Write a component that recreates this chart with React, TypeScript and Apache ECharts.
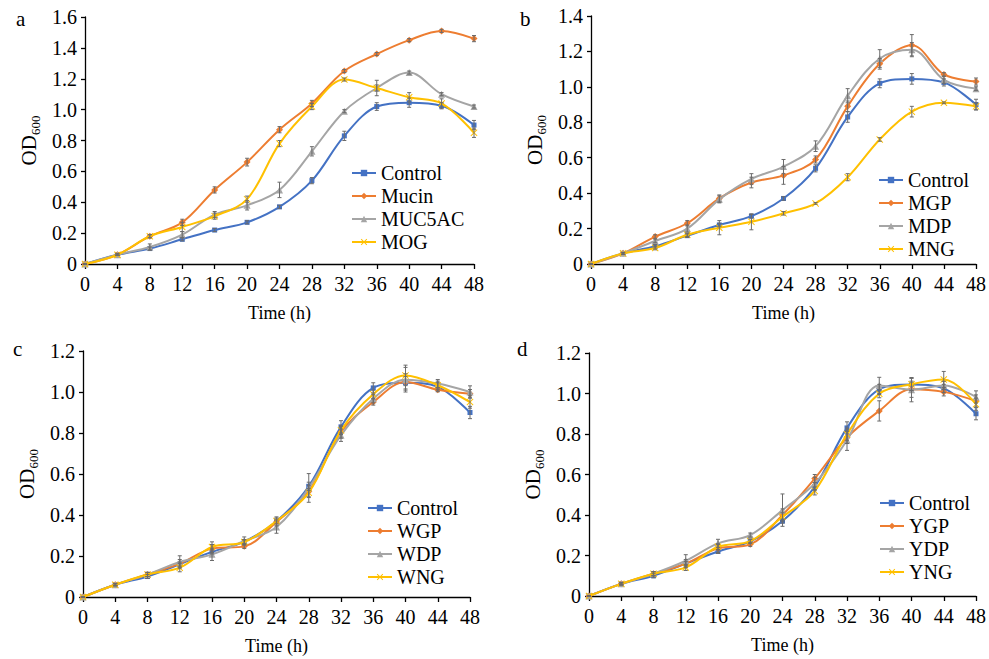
import React, { useEffect, useRef } from "react";
import * as echarts from "echarts";

const hours = [0, 4, 8, 12, 16, 20, 24, 28, 32, 36, 40, 44, 48];

const controlOD = [0, 0.06, 0.1, 0.16, 0.22, 0.27, 0.37, 0.54, 0.83, 1.02, 1.045, 1.025, 0.9];
const controlErr = [0, 0.005, 0.01, 0.01, 0.01, 0.01, 0.01, 0.02, 0.03, 0.025, 0.03, 0.02, 0.03];

const mucinOD = [0, 0.06, 0.18, 0.27, 0.48, 0.66, 0.87, 1.04, 1.25, 1.36, 1.45, 1.51, 1.46];
const mucinErr = [0, 0.005, 0.01, 0.02, 0.02, 0.025, 0.02, 0.02, 0.01, 0.01, 0.01, 0.01, 0.02];
const muc5acOD = [0, 0.06, 0.11, 0.19, 0.32, 0.38, 0.48, 0.73, 0.99, 1.14, 1.24, 1.1, 1.02];
const muc5acErr = [0, 0.005, 0.02, 0.02, 0.02, 0.03, 0.05, 0.03, 0.01, 0.05, 0.01, 0.01, 0.01];
const mogOD = [0, 0.06, 0.18, 0.24, 0.31, 0.42, 0.78, 1.02, 1.195, 1.14, 1.08, 1.04, 0.85];
const mogErr = [0, 0.005, 0.01, 0.03, 0.02, 0.02, 0.02, 0.02, 0.01, 0.02, 0.03, 0.03, 0.03];

const mgpOD = [0, 0.06, 0.155, 0.23, 0.37, 0.46, 0.5, 0.59, 0.89, 1.13, 1.235, 1.07, 1.03];
const mgpErr = [0, 0.005, 0.01, 0.015, 0.02, 0.03, 0.05, 0.02, 0.03, 0.03, 0.06, 0.01, 0.02];
const mdpOD = [0, 0.06, 0.13, 0.2, 0.365, 0.48, 0.55, 0.665, 0.95, 1.16, 1.21, 1.04, 0.99];
const mdpErr = [0, 0.005, 0.01, 0.02, 0.02, 0.03, 0.04, 0.03, 0.04, 0.05, 0.04, 0.02, 0.01];
const mngOD = [0, 0.06, 0.09, 0.165, 0.205, 0.238, 0.286, 0.342, 0.49, 0.703, 0.86, 0.91, 0.89];
const mngErr = [0, 0.005, 0.01, 0.01, 0.04, 0.045, 0.01, 0.005, 0.02, 0.01, 0.03, 0.005, 0.02];

const wgpOD = [0, 0.06, 0.11, 0.163, 0.236, 0.247, 0.366, 0.515, 0.805, 0.951, 1.049, 1.011, 0.992];
const wgpErr = [0, 0.005, 0.01, 0.02, 0.02, 0.01, 0.02, 0.03, 0.03, 0.015, 0.04, 0.01, 0.02];
const wdpOD = [0, 0.06, 0.11, 0.171, 0.208, 0.273, 0.341, 0.532, 0.789, 0.967, 1.06, 1.041, 1.0];
const wdpErr = [0, 0.005, 0.01, 0.03, 0.03, 0.02, 0.03, 0.07, 0.03, 0.02, 0.06, 0.02, 0.03];
const wngOD = [0, 0.06, 0.11, 0.143, 0.244, 0.268, 0.371, 0.509, 0.813, 0.989, 1.081, 1.033, 0.951];
const wngErr = [0, 0.005, 0.01, 0.02, 0.025, 0.01, 0.02, 0.02, 0.02, 0.02, 0.05, 0.02, 0.03];

const ygpOD = [0, 0.06, 0.11, 0.16, 0.235, 0.255, 0.4, 0.58, 0.783, 0.914, 1.021, 1.008, 0.963];
const ygpErr = [0, 0.005, 0.01, 0.02, 0.02, 0.01, 0.03, 0.02, 0.03, 0.05, 0.04, 0.02, 0.03];
const ydpOD = [0, 0.06, 0.11, 0.174, 0.26, 0.301, 0.424, 0.556, 0.769, 1.04, 1.019, 1.04, 0.983];
const ydpErr = [0, 0.005, 0.01, 0.03, 0.02, 0.01, 0.08, 0.03, 0.05, 0.04, 0.06, 0.02, 0.03];
const yngOD = [0, 0.06, 0.11, 0.141, 0.243, 0.271, 0.391, 0.519, 0.799, 0.999, 1.046, 1.069, 0.947];
const yngErr = [0, 0.005, 0.01, 0.015, 0.015, 0.01, 0.02, 0.02, 0.03, 0.02, 0.03, 0.04, 0.03];

const panels = [
  { letter: "a", yMax: 1.6, names: ["Control", "Mucin", "MUC5AC", "MOG"], values: [controlOD, mucinOD, muc5acOD, mogOD], errors: [controlErr, mucinErr, muc5acErr, mogErr] },
  { letter: "b", yMax: 1.4, names: ["Control", "MGP", "MDP", "MNG"], values: [controlOD, mgpOD, mdpOD, mngOD], errors: [controlErr, mgpErr, mdpErr, mngErr] },
  { letter: "c", yMax: 1.2, names: ["Control", "WGP", "WDP", "WNG"], values: [controlOD, wgpOD, wdpOD, wngOD], errors: [controlErr, wgpErr, wdpErr, wngErr] },
  { letter: "d", yMax: 1.2, names: ["Control", "YGP", "YDP", "YNG"], values: [controlOD, ygpOD, ydpOD, yngOD], errors: [controlErr, ygpErr, ydpErr, yngErr] },
];

const COLORS = ["#4472C4", "#ED7D31", "#A5A5A5", "#FFC000"];
const CROSS = "path://M0,1L1,0L5,4L9,0L10,1L6,5L10,9L9,10L5,6L1,10L0,9L4,5Z";
const SYMBOLS = ["rect", "diamond", "triangle", CROSS];
const SYMBOL_SIZES = [5, 7, 7, 7];
const FONT = "Liberation Serif";

const grids = [
  { left: 85, right: 515, top: 17, bottom: 395 },
  { left: 591, right: 10, top: 16, bottom: 395 },
  { left: 83, right: 519, top: 351, bottom: 62 },
  { left: 589, right: 10, top: 353, bottom: 63 },
];
const legendPos = [
  { left: 346, top: 158 },
  { left: 873, top: 165 },
  { left: 362, top: 493 },
  { left: 874, top: 488 },
];
const letterPos = [
  { x: 16, y: 8 },
  { x: 520, y: 8 },
  { x: 13, y: 338 },
  { x: 517, y: 338 },
];

export default function App() {
  const ref = useRef<HTMLDivElement>(null);
  useEffect(() => {
    if (!ref.current) return;
    const chart = echarts.init(ref.current, undefined, { renderer: "svg" });
    const series: any[] = [];
    panels.forEach((p, pi) => {
      p.names.forEach((name, si) => {
        series.push({
          type: "line",
          name,
          xAxisIndex: pi,
          yAxisIndex: pi,
          data: hours.map((h, i) => [h, p.values[si][i]]),
          smooth: 0.35,
          symbol: SYMBOLS[si],
          symbolSize: SYMBOL_SIZES[si],
          showSymbol: true,
          color: COLORS[si],
          lineStyle: { width: 2, color: COLORS[si] },
          itemStyle: { color: COLORS[si] },
          z: 3 + si,
        });
        series.push({
          type: "custom",
          name: "err-" + p.letter + si,
          xAxisIndex: pi,
          yAxisIndex: pi,
          data: hours.map((h, i) => [h, p.values[si][i], p.errors[si][i]]),
          z: 10,
          silent: true,
          renderItem: (params: any, api: any) => {
            const x = api.value(0);
            const y = api.value(1);
            const e = api.value(2);
            const top = api.coord([x, y + e]);
            const bot = api.coord([x, y - e]);
            const w = 2;
            const st = { stroke: "#6b6b6b", lineWidth: 1 };
            return {
              type: "group",
              children: [
                { type: "line", shape: { x1: top[0], y1: top[1], x2: bot[0], y2: bot[1] }, style: st },
                { type: "line", shape: { x1: top[0] - w, y1: top[1], x2: top[0] + w, y2: top[1] }, style: st },
                { type: "line", shape: { x1: bot[0] - w, y1: bot[1], x2: bot[0] + w, y2: bot[1] }, style: st },
              ],
            };
          },
        });
      });
    });

    const option: any = {
      animation: false,
      textStyle: { fontFamily: FONT, color: "#000" },
      grid: grids.map((g) => ({ ...g, containLabel: false })),
      xAxis: panels.map((p, pi) => ({
        type: "value",
        gridIndex: pi,
        min: 0,
        max: 48,
        interval: 4,
        name: "Time (h)",
        nameLocation: "middle",
        nameGap: 40,
        nameTextStyle: { fontFamily: FONT, fontSize: 18, color: "#000" },
        axisLine: { show: true, lineStyle: { color: "#000", width: 1.3 } },
        axisTick: { show: true, length: 5, lineStyle: { color: "#000", width: 1.3 } },
        axisLabel: { fontFamily: FONT, fontSize: 20, color: "#000", margin: 10 },
        splitLine: { show: false },
      })),
      yAxis: panels.map((p, pi) => ({
        type: "value",
        gridIndex: pi,
        min: 0,
        max: p.yMax,
        interval: 0.2,
        name: "{m|OD}{s|600}",
        nameLocation: "middle",
        nameGap: 45,
        nameTextStyle: {
          fontFamily: FONT,
          color: "#000",
          rich: {
            m: { fontFamily: FONT, fontSize: 21, lineHeight: 22, verticalAlign: "top", color: "#000" },
            s: { fontFamily: FONT, fontSize: 13, lineHeight: 13, padding: [11, 0, 0, 0], verticalAlign: "top", color: "#000" },
          },
        },
        axisLine: { show: true, lineStyle: { color: "#000", width: 1.3 } },
        axisTick: { show: true, length: 4, lineStyle: { color: "#000", width: 1.3 } },
        axisLabel: {
          fontFamily: FONT,
          fontSize: 20,
          color: "#000",
          margin: 8,
          formatter: (v: number) => (v === 0 ? "0" : v.toFixed(1)),
        },
        splitLine: { show: false },
      })),
      legend: panels.map((p, pi) => ({
        data: p.names,
        orient: "vertical",
        left: legendPos[pi].left,
        top: legendPos[pi].top,
        itemWidth: 24,
        itemHeight: 8,
        itemGap: 3,
        textStyle: { fontFamily: FONT, fontSize: 20, color: "#000", lineHeight: 20 },
        selectedMode: false,
      })),
      graphic: panels.map((p, pi) => ({
        type: "text",
        left: letterPos[pi].x,
        top: letterPos[pi].y,
        style: { text: p.letter, font: `21px "${FONT}"`, fill: "#000" },
      })),
      series,
    };
    chart.setOption(option);
    return () => chart.dispose();
  }, []);
  return <div ref={ref} style={{ width: 989, height: 659, position: "absolute", left: 0, top: 0 }} />;
}
